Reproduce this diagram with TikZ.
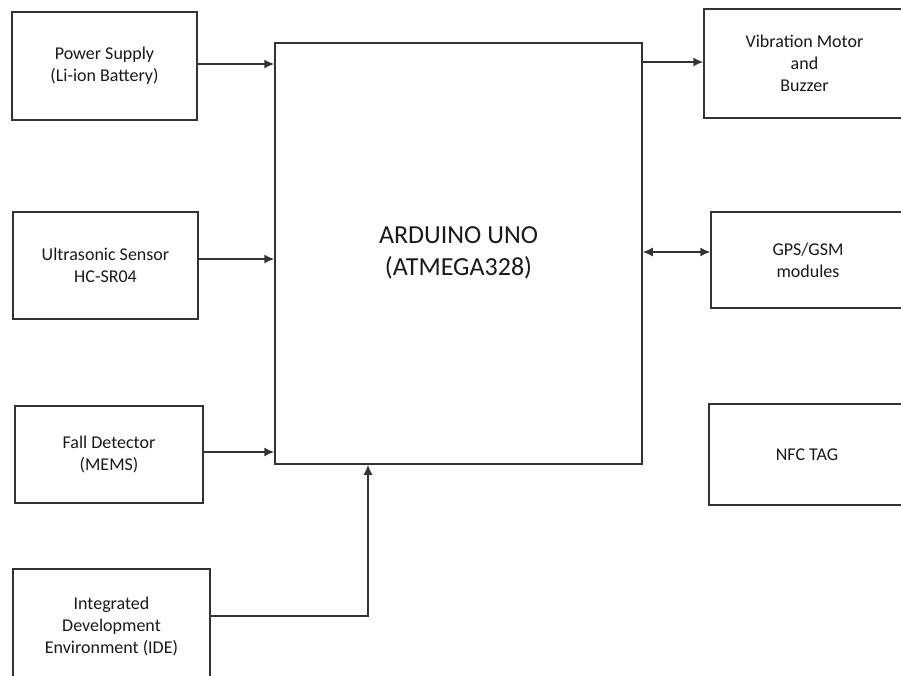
\documentclass[tikz,border=0pt]{standalone}
\usepackage{fontspec}
\setmainfont{Carlito}
\usetikzlibrary{arrows.meta}
\definecolor{lc}{HTML}{333333}
\definecolor{tc}{HTML}{1A1A1A}
\begin{document}
\begin{tikzpicture}[x=1pt,y=-1pt,
  box/.style={draw=lc, line width=1.5pt, rectangle, inner sep=0pt, align=center,
    text=tc, font=\fontsize{18}{22}\selectfont},
  arr/.style={draw=lc, line width=1.5pt, -{Latex[length=10pt,width=9pt]}},
  darr/.style={draw=lc, line width=1.5pt, {Latex[length=10pt,width=9pt]}-{Latex[length=10pt,width=9pt]}}]
\useasboundingbox[fill=white] (0,0) rectangle (901,675);
\begin{scope}
\clip (0,0) rectangle (901,675);
\node[box, minimum width=185pt, minimum height=108pt] (ps) at (104.5,66) {Power Supply\\(Li-ion Battery)};
\node[box, minimum width=185pt, minimum height=107pt] (us) at (105.5,265.5) {Ultrasonic Sensor\\HC-SR04};
\node[box, minimum width=188pt, minimum height=97pt] (fd) at (109,454.5) {Fall Detector\\(MEMS)};
\node[box, minimum width=197pt, minimum height=116pt] (ide) at (111.5,627) {\raisebox{10pt}{\begin{tabular}{@{}c@{}}Integrated\\Development\\Environment (IDE)\end{tabular}}};
\node[box, minimum width=367pt, minimum height=421pt, font=\fontsize{26}{32}\selectfont] (ard) at (458.5,253.5) {\raisebox{4pt}{\begin{tabular}{@{}c@{}}ARDUINO UNO\\(ATMEGA328)\end{tabular}}};
\node[box, minimum width=201pt, minimum height=109pt] (vib) at (804.5,63.5) {Vibration Motor\\and\\Buzzer};
\node[box, minimum width=194pt, minimum height=96pt] (gps) at (808,260) {GPS/GSM\\modules};
\node[box, minimum width=196pt, minimum height=101pt] (nfc) at (807,454.5) {NFC TAG};

\draw[arr] ([yshift=2pt]ps.east) -- ([yshift=2pt]ps.east -| ard.west);
\draw[arr] ([yshift=6.5pt]us.east) -- ([yshift=6.5pt]us.east -| ard.west);
\draw[arr] ([yshift=2.5pt]fd.east) -- ([yshift=2.5pt]fd.east -| ard.west);
\draw[arr] ([yshift=1.5pt]vib.west -| ard.east) -- ([yshift=1.5pt]vib.west);
\draw[darr] ([yshift=8pt]gps.west -| ard.east) -- ([yshift=8pt]gps.west);
\draw[arr] ([yshift=11pt]ide.east) -| ([xshift=-90.5pt]ard.south);
\end{scope}
\end{tikzpicture}
\end{document}
